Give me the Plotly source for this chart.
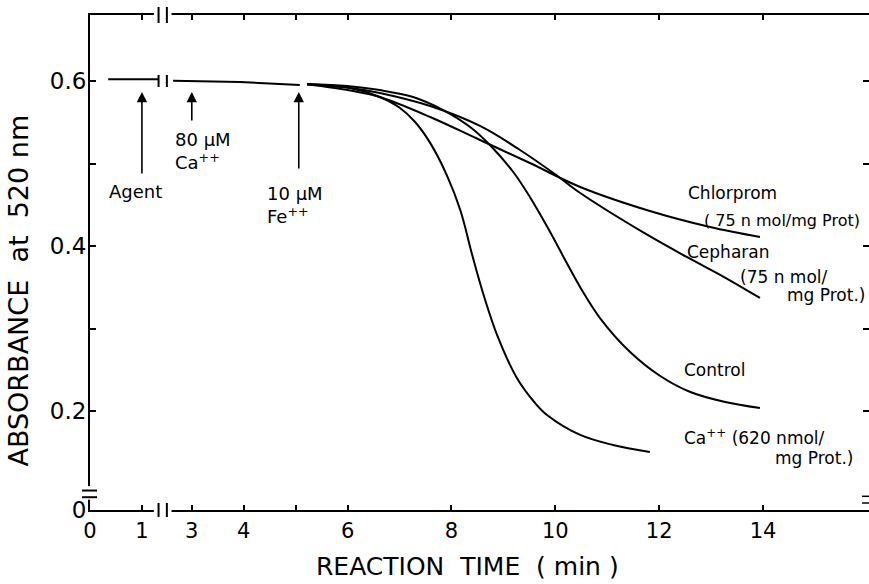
import plotly.graph_objects as go

# ---------------- data (time in min, absorbance at 520 nm) ----------------
base_t = [0.35, 1.31, None, 2.64, 3.93, 5.08]
base_v = [0.602, 0.602, None, 0.6004, 0.5988, 0.5952]

ca_t = [5.22, 6.05, 6.62, 7.01, 7.30, 7.59, 7.91, 8.17, 8.40, 8.59, 8.88, 9.26, 9.61, 9.84, 10.48, 11.11, 11.82]
ca_v = [0.596, 0.5915, 0.5806, 0.5673, 0.5503, 0.525, 0.486, 0.4436, 0.389, 0.3467, 0.292, 0.240, 0.2097, 0.1952, 0.171, 0.1588, 0.1503]

control_t = [5.22, 5.99, 6.62, 7.26, 7.84, 8.36, 8.74, 9.19, 9.51, 9.90, 10.21, 10.51, 10.86, 11.44, 12.02, 12.60, 13.27, 13.94]
control_v = [0.596, 0.594, 0.589, 0.5806, 0.5648, 0.5442, 0.5224, 0.4897, 0.4594, 0.417, 0.3806, 0.3467, 0.3127, 0.2715, 0.2424, 0.223, 0.2109, 0.2036]

cepharan_t = [5.22, 6.05, 6.62, 7.59, 8.55, 9.32, 9.99, 10.48, 11.71, 12.53, 13.25, 13.94]
cepharan_v = [0.596, 0.5915, 0.5855, 0.5697, 0.5455, 0.5164, 0.4873, 0.4642, 0.4158, 0.3867, 0.3624, 0.337]

chlorprom_t = [5.22, 6.05, 6.62, 7.59, 8.55, 9.51, 10.48, 11.82, 12.98, 13.94]
chlorprom_v = [0.596, 0.5885, 0.5806, 0.5564, 0.5285, 0.5006, 0.4715, 0.4424, 0.423, 0.4109]

# additions (time of addition, arrow head / tail absorbance)
event_t = [1.0, 3.0, 5.06]
event_head = [0.5867, 0.5867, 0.5867]
event_tail = [0.486, 0.5503, 0.4921]
event_labels = ["Agent", "80 µM<br>Ca<sup>++</sup>", "10 µM<br>Fe<sup>++</sup>"]

x_tick_minutes = [0, 1, 3, 4, 5, 6, 8, 10, 12, 14]
x_tick_text = ["0", "1", "3", "4", "", "6", "8", "10", "12", "14"]
y_tick_vals = [0.2, 0.3, 0.4, 0.5, 0.6]
y_tick_text = ["0.2", "", "0.4", "", "0.6"]
curve_labels = [
    "Chlorprom", "( 75 n mol/mg Prot)",
    "Cepharan", "(75 n mol/", "mg Prot.)",
    "Control",
    "Ca<sup>++</sup> (620 nmol/", "mg Prot.)",
]

# ---------------- broken time axis ----------------
BREAK_SHIFT = 1.04   # minutes removed by the axis break between 1 and 3 min
BREAK_D = 1.40       # position of the break marks (display units)
Y_ZERO_POS = 0.08    # where the broken absorbance axis shows "0"


def disp(t):
    if t is None:
        return None
    return t if t < 2 else t - BREAK_SHIFT


FONT = "DejaVu Sans"
fig = go.Figure()

lw = 2
fig.add_trace(go.Scatter(x=[disp(t) for t in base_t], y=base_v, mode="lines",
                         line=dict(color="black", width=lw), connectgaps=False))
for tt, vv in [(ca_t, ca_v), (control_t, control_v), (cepharan_t, cepharan_v), (chlorprom_t, chlorprom_v)]:
    fig.add_trace(go.Scatter(x=[disp(t) for t in tt], y=vv, mode="lines",
                             line=dict(color="black", width=lw, shape="spline", smoothing=1.0)))
# dummy trace for right-hand tick axis
fig.add_trace(go.Scatter(x=[None], y=[None], yaxis="y2", mode="lines"))

annotations = []
# arrows for additions
for t, h, tl in zip(event_t, event_head, event_tail):
    annotations.append(dict(x=disp(t), y=h, ax=disp(t), ay=tl, xref="x", yref="y",
                            axref="x", ayref="y", text="", showarrow=True,
                            arrowhead=2, arrowsize=1.3, arrowwidth=1.6, arrowcolor="black",
                            standoff=0, startstandoff=0))
# addition labels
annotations.append(dict(x=0.87, y=0.4655, xref="x", yref="y", text=event_labels[0],
                        showarrow=False, xanchor="center", yanchor="middle",
                        font=dict(size=18, family=FONT, color="black")))
annotations.append(dict(x=1.60, y=0.5440, xref="x", yref="y", text=event_labels[1],
                        showarrow=False, xanchor="left", yanchor="top", align="left",
                        font=dict(size=18, family=FONT, color="black")))
annotations.append(dict(x=3.36, y=0.4790, xref="x", yref="y", text=event_labels[2],
                        showarrow=False, xanchor="left", yanchor="top", align="left",
                        font=dict(size=18, family=FONT, color="black")))
# curve labels
label_pos = [(11.48, 0.4642), (11.78, 0.4315), (11.46, 0.3927), (12.48, 0.3624),
             (13.38, 0.3406), (11.40, 0.2497), (11.40, 0.1685), (13.15, 0.143)]
label_size = [17, 16, 17, 17, 17, 17, 17, 17]
for txt, (lx, ly), sz in zip(curve_labels, label_pos, label_size):
    annotations.append(dict(x=lx, y=ly, xref="x", yref="y", text=txt, showarrow=False,
                            xanchor="left", yanchor="middle",
                            font=dict(size=sz, family=FONT, color="black")))
# axis titles
annotations.append(dict(x=0.485, y=-0.115, xref="paper", yref="paper",
                        text="REACTION  TIME  ( min )", showarrow=False,
                        xanchor="center", yanchor="middle",
                        font=dict(size=25, family=FONT, color="black")))
annotations.append(dict(x=-0.092, y=0.444, xref="paper", yref="paper",
                        text="ABSORBANCE  at  520 nm", showarrow=False, textangle=-90,
                        xanchor="center", yanchor="middle",
                        font=dict(size=27, family=FONT, color="black")))

shapes = []
white = dict(color="white", width=0)
# break on bottom and top time axis
for anchor, half in [(0, 7), (1, 8)]:
    shapes.append(dict(type="rect", xref="x", yref="paper", ysizemode="pixel", yanchor=anchor,
                       x0=BREAK_D - 0.17, x1=BREAK_D + 0.17, y0=-3, y1=3,
                       fillcolor="white", line=white, layer="above"))
    for dx in (-0.08, 0.08):
        shapes.append(dict(type="line", xref="x", yref="paper", ysizemode="pixel", yanchor=anchor,
                           x0=BREAK_D + dx, x1=BREAK_D + dx, y0=-half, y1=half,
                           line=dict(color="black", width=2), layer="above"))
# break marks on the baseline trace
for dx in (-0.08, 0.08):
    shapes.append(dict(type="line", xref="x", yref="y", ysizemode="pixel", yanchor=0.6,
                       x0=BREAK_D + dx, x1=BREAK_D + dx, y0=-6, y1=6,
                       line=dict(color="black", width=2), layer="above"))
# break on absorbance axis (left) and marks at right edge
shapes.append(dict(type="rect", xref="paper", yref="y", xsizemode="pixel", xanchor=0,
                   x0=-3, x1=3, y0=0.0925, y1=0.109, fillcolor="white", line=white, layer="above"))
for yy in (0.1036, 0.0955):
    shapes.append(dict(type="line", xref="paper", yref="y", xsizemode="pixel", xanchor=0,
                       x0=-8, x1=7, y0=yy, y1=yy, line=dict(color="black", width=2), layer="above"))
    shapes.append(dict(type="line", xref="paper", yref="y", xsizemode="pixel", xanchor=1,
                       x0=-7, x1=0, y0=yy - 0.007, y1=yy - 0.007,
                       line=dict(color="black", width=1.5), layer="above"))

fig.update_layout(
    width=869, height=584,
    margin=dict(l=90, r=0, t=15, b=74),
    paper_bgcolor="white", plot_bgcolor="white",
    showlegend=False,
    font=dict(family=FONT, color="black"),
    xaxis=dict(range=[0, 15.0], showgrid=False, zeroline=False,
               showline=True, linecolor="black", linewidth=2, mirror="ticks",
               ticks="inside", ticklen=5, tickwidth=1.5, tickcolor="black",
               tickvals=[disp(t) for t in x_tick_minutes], ticktext=x_tick_text,
               tickfont=dict(size=21, family=FONT, color="black"), ticklabelstandoff=1),
    yaxis=dict(range=[Y_ZERO_POS, 0.68], showgrid=False, zeroline=False,
               showline=True, linecolor="black", linewidth=2, mirror=False,
               ticks="inside", ticklen=6, tickwidth=1.5, tickcolor="black",
               tickvals=[Y_ZERO_POS] + y_tick_vals, ticktext=["0"] + y_tick_text,
               tickfont=dict(size=23, family=FONT, color="black"), ticklabelstandoff=-3),
    yaxis2=dict(range=[Y_ZERO_POS, 0.68], overlaying="y", side="right", showgrid=False,
                zeroline=False, showline=False, ticks="inside", ticklen=6, tickwidth=1.5,
                tickcolor="black", tickvals=y_tick_vals, showticklabels=False),
    annotations=annotations,
    shapes=shapes,
)

fig.write_html("out.html")
